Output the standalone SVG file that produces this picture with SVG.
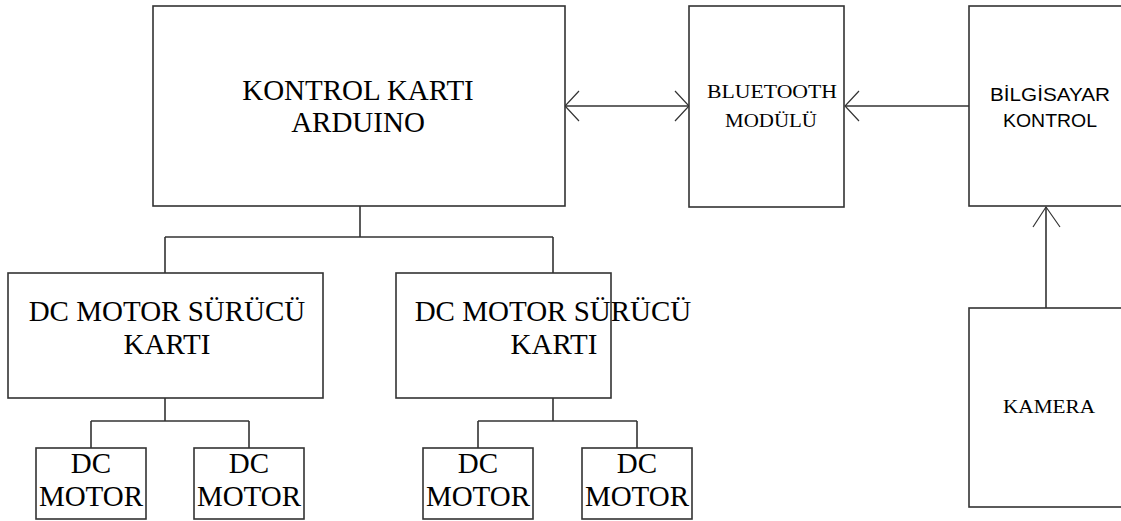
<svg xmlns="http://www.w3.org/2000/svg" width="1121" height="521" viewBox="0 0 1121 521">
<style>
.box{fill:#fff;stroke:#333;stroke-width:1.6}
.ln{fill:none;stroke:#333;stroke-width:1.6}
text{fill:#000;text-anchor:middle;font-family:"Liberation Serif","Times New Roman",serif}
text.sans{font-family:"Liberation Sans",Arial,sans-serif}
</style>
<defs>
<marker id="arr" markerUnits="userSpaceOnUse" markerWidth="40" markerHeight="40" viewBox="-20 -20 40 40" refX="0" refY="0" orient="auto-start-reverse" overflow="visible">
<path d="M-14,-15 L0,0 L-14,15" fill="none" stroke="#333" stroke-width="1.2"/>
</marker>
<marker id="arrUp" markerUnits="userSpaceOnUse" markerWidth="40" markerHeight="40" viewBox="-20 -20 40 40" refX="0" refY="0" orient="auto" overflow="visible">
<path d="M-20,-13 L0,0 L-20,14" fill="none" stroke="#333" stroke-width="1.2"/>
</marker>
</defs>
<g id="connectors">
<path class="ln" d="M360,206 V237 M165,237 H553 M165,237 V273 M553,237 V273"/>
<path class="ln" d="M165,398 V421 M91,421 H249 M91,421 V448 M249,421 V448"/>
<path class="ln" d="M553,398 V421 M478,421 H637 M478,421 V448 M637,421 V448"/>
<line class="ln" x1="565" y1="106" x2="689" y2="106" marker-start="url(#arr)" marker-end="url(#arr)"/>
<line class="ln" x1="969" y1="106" x2="845" y2="106" marker-end="url(#arr)"/>
<line class="ln" x1="1046" y1="308" x2="1046" y2="207" marker-end="url(#arrUp)"/>
</g>
<g id="kontrol">
<rect class="box" x="153" y="6" width="412" height="200"/>
<text x="358" y="100" font-size="29">KONTROL KARTI</text>
<text x="358" y="132" font-size="29">ARDUINO</text>
</g>
<g id="bluetooth">
<rect class="box" x="689" y="6" width="155" height="201"/>
<text x="772" y="98" font-size="19" textLength="130" lengthAdjust="spacingAndGlyphs">BLUETOOTH</text>
<text x="771" y="127" font-size="19" textLength="92" lengthAdjust="spacingAndGlyphs">MODÜLÜ</text>
</g>
<g id="bilgisayar">
<rect class="box" x="969" y="6" width="160" height="200"/>
<text class="sans" x="1050" y="101" font-size="18" textLength="120" lengthAdjust="spacingAndGlyphs">BİLGİSAYAR</text>
<text class="sans" x="1050" y="127" font-size="18" textLength="94" lengthAdjust="spacingAndGlyphs">KONTROL</text>
</g>
<g id="kamera">
<rect class="box" x="969" y="308" width="160" height="199"/>
<text x="1049" y="413" font-size="19" textLength="92" lengthAdjust="spacingAndGlyphs">KAMERA</text>
</g>
<g id="surucu1">
<rect class="box" x="8" y="273" width="315" height="125"/>
<text x="167" y="321" font-size="29">DC MOTOR SÜRÜCÜ</text>
<text x="167" y="354" font-size="29">KARTI</text>
</g>
<g id="surucu2">
<rect class="box" x="396" y="273" width="215" height="125"/>
<text x="553" y="321" font-size="29">DC MOTOR SÜRÜCÜ</text>
<text x="554" y="354" font-size="29">KARTI</text>
</g>
<g id="motor1">
<rect class="box" x="36" y="448" width="110" height="71"/>
<text x="91" y="473" font-size="29">DC</text>
<text x="91" y="506" font-size="29">MOTOR</text>
</g>
<g id="motor2">
<rect class="box" x="194" y="448" width="110" height="71"/>
<text x="249" y="473" font-size="29">DC</text>
<text x="249" y="506" font-size="29">MOTOR</text>
</g>
<g id="motor3">
<rect class="box" x="423" y="448" width="110" height="71"/>
<text x="478" y="473" font-size="29">DC</text>
<text x="478" y="506" font-size="29">MOTOR</text>
</g>
<g id="motor4">
<rect class="box" x="582" y="448" width="110" height="71"/>
<text x="637" y="473" font-size="29">DC</text>
<text x="637" y="506" font-size="29">MOTOR</text>
</g>
</svg>
